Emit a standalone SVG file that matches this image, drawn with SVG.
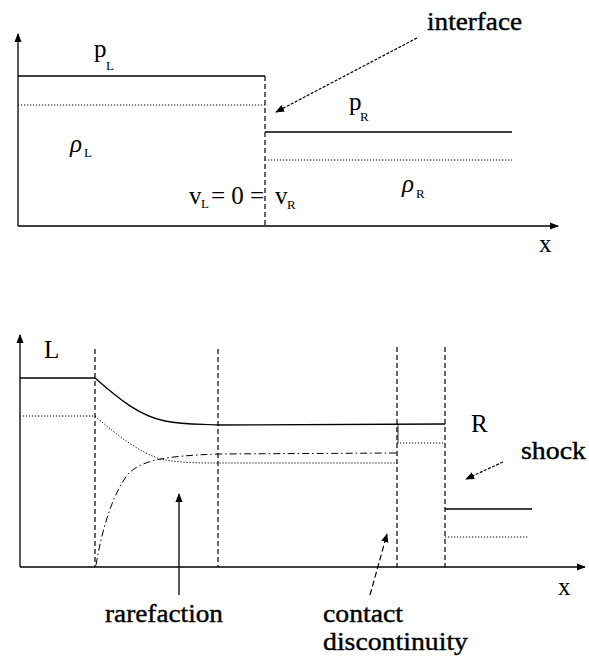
<svg xmlns="http://www.w3.org/2000/svg" width="589" height="665" viewBox="0 0 589 665">
<style>
.s{stroke:#000;stroke-width:1.3;fill:none}
.d{stroke:#000;stroke-width:1.2;fill:none;stroke-dasharray:5,3}
.o{stroke:#000;stroke-width:1;fill:none;stroke-dasharray:1.2,1.8}
.dd{stroke:#000;stroke-width:1;fill:none;stroke-dasharray:7,3,1.5,3}
.t{font-size:25px}
.w{stroke:#000;stroke-width:0.4}
.sub{font-size:13px}
</style>
<defs>
<marker id="ah" viewBox="0 0 10 10" refX="9" refY="5" markerWidth="9" markerHeight="9" markerUnits="userSpaceOnUse" orient="auto">
<path d="M0,1 L10,5 L0,9 z" fill="#000"/>
</marker>
</defs>
<rect width="589" height="665" fill="#fff"/>
<g id="connectors">
<line class="s" x1="18" y1="226" x2="18" y2="34" marker-end="url(#ah)"/>
<line class="s" x1="18" y1="226" x2="558" y2="226" marker-end="url(#ah)"/>
<line class="s" x1="18" y1="76" x2="265" y2="76"/>
<line class="o" x1="18" y1="105" x2="265" y2="105"/>
<line class="d" x1="265" y1="76" x2="265" y2="226"/>
<line class="s" x1="265" y1="132" x2="512" y2="132"/>
<line class="o" x1="265" y1="160" x2="512" y2="160"/>
<line class="d" x1="417" y1="38" x2="276" y2="112" marker-end="url(#ah)" style="stroke-dasharray:3,1.5"/>
<line class="s" x1="20" y1="567" x2="20" y2="335" marker-end="url(#ah)"/>
<line class="s" x1="20" y1="567" x2="585" y2="567" marker-end="url(#ah)"/>
<line class="d" x1="95" y1="349" x2="95" y2="567"/>
<line class="d" x1="218" y1="349" x2="218" y2="567"/>
<line class="d" x1="397" y1="347" x2="397" y2="567"/>
<line class="d" x1="445" y1="347" x2="445" y2="567"/>
<line class="s" x1="20" y1="378" x2="95" y2="378"/>
<line class="o" x1="20" y1="416" x2="95" y2="416"/>
<path class="s" d="M95,378 C120,400 140,416 165,421 C185,425 200,424 218,425 L445,424"/>
<path class="o" d="M95,416 C120,438 140,452 160,459 C180,463 200,463 218,463 L397,463"/>
<path class="dd" d="M96,565 C102,530 112,495 128,474 C142,460 165,456 218,454 L397,453"/>
<line class="s" x1="398" y1="424" x2="398" y2="443" style="stroke-width:0.8"/>
<line class="o" x1="397" y1="443" x2="445" y2="443"/>
<line class="s" x1="445" y1="509" x2="532" y2="509"/>
<line class="o" x1="445" y1="537" x2="529" y2="537"/>
<line class="d" x1="503" y1="462" x2="466" y2="479" marker-end="url(#ah)" style="stroke-dasharray:3,1.5"/>
<line class="s" x1="179" y1="595" x2="179" y2="494" marker-end="url(#ah)"/>
<line class="d" x1="370" y1="595" x2="387" y2="534" marker-end="url(#ah)" style="stroke-dasharray:6,3"/>
</g>
<g id="top-labels" font-family="'Liberation Serif', serif" fill="#000">
<text class="t" x="94" y="57">p</text><text class="sub" x="106" y="70">L</text>
<text class="t" x="70" y="152" font-style="italic">ρ</text><text class="sub" x="84" y="157">L</text>
<text class="t" x="189" y="204">v</text><text class="sub" x="201" y="208">L</text>
<text class="t" x="211" y="204">= 0 =</text>
<text class="t" x="275" y="204">v</text><text class="sub" x="287" y="209">R</text>
<text class="t" x="349" y="110">p</text><text class="sub" x="360" y="121">R</text>
<text class="t" x="402" y="192" font-style="italic">ρ</text><text class="sub" x="416" y="198">R</text>
<text class="t w" x="427" y="30" textLength="95" lengthAdjust="spacingAndGlyphs">interface</text>
<text class="t" x="539" y="252">x</text>
</g>
<g id="bottom-labels" font-family="'Liberation Serif', serif" fill="#000">
<text class="t" x="44" y="358">L</text>
<text class="t" x="471" y="432">R</text>
<text class="t w" x="521" y="459" textLength="65" lengthAdjust="spacingAndGlyphs">shock</text>
<text class="t w" x="105" y="622" textLength="118" lengthAdjust="spacingAndGlyphs">rarefaction</text>
<text class="t w" x="323" y="622" textLength="80" lengthAdjust="spacingAndGlyphs">contact</text>
<text class="t w" x="323" y="650" textLength="145" lengthAdjust="spacingAndGlyphs">discontinuity</text>
<text class="t" x="558" y="595">x</text>
</g>
</svg>
